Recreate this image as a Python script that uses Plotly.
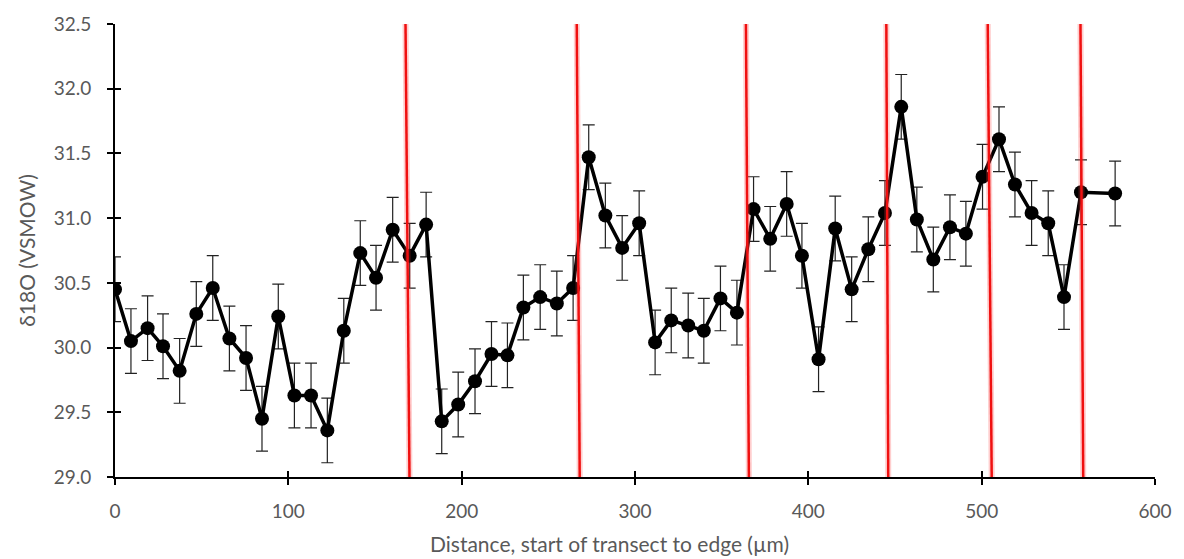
import plotly.graph_objects as go

# Transect distances (µm) and oxygen isotope values with 1-sigma errors
distance = [0, 9.2, 18.8, 27.7, 37.3, 46.9, 56.4, 66.0, 75.6, 84.8, 94.2,
            103.5, 113.1, 122.5, 132.0, 141.5, 150.6, 160.2, 170.0, 179.5,
            188.5, 198.0, 207.7, 217.2, 226.4, 235.6, 245.3, 254.9, 264.3,
            273.3, 282.9, 292.6, 302.4, 311.6, 320.9, 330.7, 339.7, 349.3,
            358.8, 368.4, 378.0, 387.5, 396.3, 405.9, 415.5, 425.0, 434.6,
            444.2, 453.6, 462.6, 472.1, 481.7, 490.9, 500.5, 510.0, 519.2,
            528.8, 538.4, 547.5, 557.3, 577.0]
d18o = [30.45, 30.05, 30.15, 30.01, 29.82, 30.26, 30.46, 30.07, 29.92, 29.45,
        30.24, 29.63, 29.63, 29.36, 30.13, 30.73, 30.54, 30.91, 30.71, 30.95,
        29.43, 29.56, 29.74, 29.95, 29.94, 30.31, 30.39, 30.34, 30.46, 31.47,
        31.02, 30.77, 30.96, 30.04, 30.21, 30.17, 30.13, 30.38, 30.27, 31.07,
        30.84, 31.11, 30.71, 29.91, 30.92, 30.45, 30.76, 31.04, 31.86, 30.99,
        30.68, 30.93, 30.88, 31.32, 31.61, 31.26, 31.04, 30.96, 30.39, 31.20,
        31.19]
err = [0.25] * len(d18o)

# Growth-band boundaries (start and end x of each marker line)
bound_top = [167.6, 266.4, 364.0, 445.0, 503.5, 557.0]
bound_bottom = [169.9, 268.1, 365.7, 446.1, 505.8, 558.6]

x_ticks = [0, 100, 200, 300, 400, 500, 600]
y_ticks = [29.0, 29.5, 30.0, 30.5, 31.0, 31.5, 32.0, 32.5]

FONT = "Lato"
GREY = "#595959"

fig = go.Figure()
fig.add_trace(go.Scatter(
    x=distance, y=d18o, mode="lines+markers",
    line=dict(color="black", width=3.5),
    marker=dict(color="black", size=14),
    error_y=dict(type="data", array=err, visible=True,
                 color="#222222", thickness=1.2, width=6),
    showlegend=False, hoverinfo="skip",
))
# invisible trace to anchor the overlay axes (inner tick marks)
fig.add_trace(go.Scatter(x=[0], y=[29], xaxis="x2", yaxis="y2",
                         mode="markers", marker=dict(opacity=0),
                         showlegend=False, hoverinfo="skip"))

for xt, xb in zip(bound_top, bound_bottom):
    fig.add_shape(type="line", x0=xt, x1=xb, y0=32.5, y1=29.0,
                  xref="x", yref="y",
                  line=dict(color="rgba(255,60,60,0.25)", width=6))
    fig.add_shape(type="line", x0=xt, x1=xb, y0=32.5, y1=29.0,
                  xref="x", yref="y",
                  line=dict(color="#f01010", width=2.5))

# x-axis title, set slightly left of centre
fig.add_annotation(text="Distance, start of transect to edge (µm)",
                   xref="paper", yref="paper", x=0.4756, y=0,
                   yshift=-66, xanchor="center", yanchor="middle",
                   showarrow=False, font=dict(size=21, color=GREY))

axis_common = dict(showgrid=False, zeroline=False, showline=True,
                   linecolor="black", linewidth=2, tickcolor="black",
                   tickwidth=2, ticklen=6)

fig.update_layout(
    width=1184, height=559,
    margin=dict(l=115, r=24, t=19, b=82),
    paper_bgcolor="white", plot_bgcolor="white",
    font=dict(family=FONT, color=GREY, size=19),
    xaxis=dict(range=[0, 600], tickvals=x_ticks, ticks="outside",
               tickfont=dict(size=19, color=GREY), ticklabelstandoff=10,
               **axis_common),
    yaxis=dict(range=[29.0, 32.5], tickvals=y_ticks, tickformat=".1f",
               ticks="outside", tickfont=dict(size=19, color=GREY),
               ticklabelstandoff=12,
               title=dict(text="δ18O (VSMOW)",
                          font=dict(size=21, color=GREY), standoff=12),
               **axis_common),
    xaxis2=dict(range=[0, 600], tickvals=x_ticks, ticks="inside",
                showticklabels=False, overlaying="x", anchor="y2",
                **axis_common),
    yaxis2=dict(range=[29.0, 32.5], tickvals=y_ticks, ticks="inside",
                showticklabels=False, overlaying="y", anchor="x2",
                **axis_common),
)

fig.write_html("out.html")
